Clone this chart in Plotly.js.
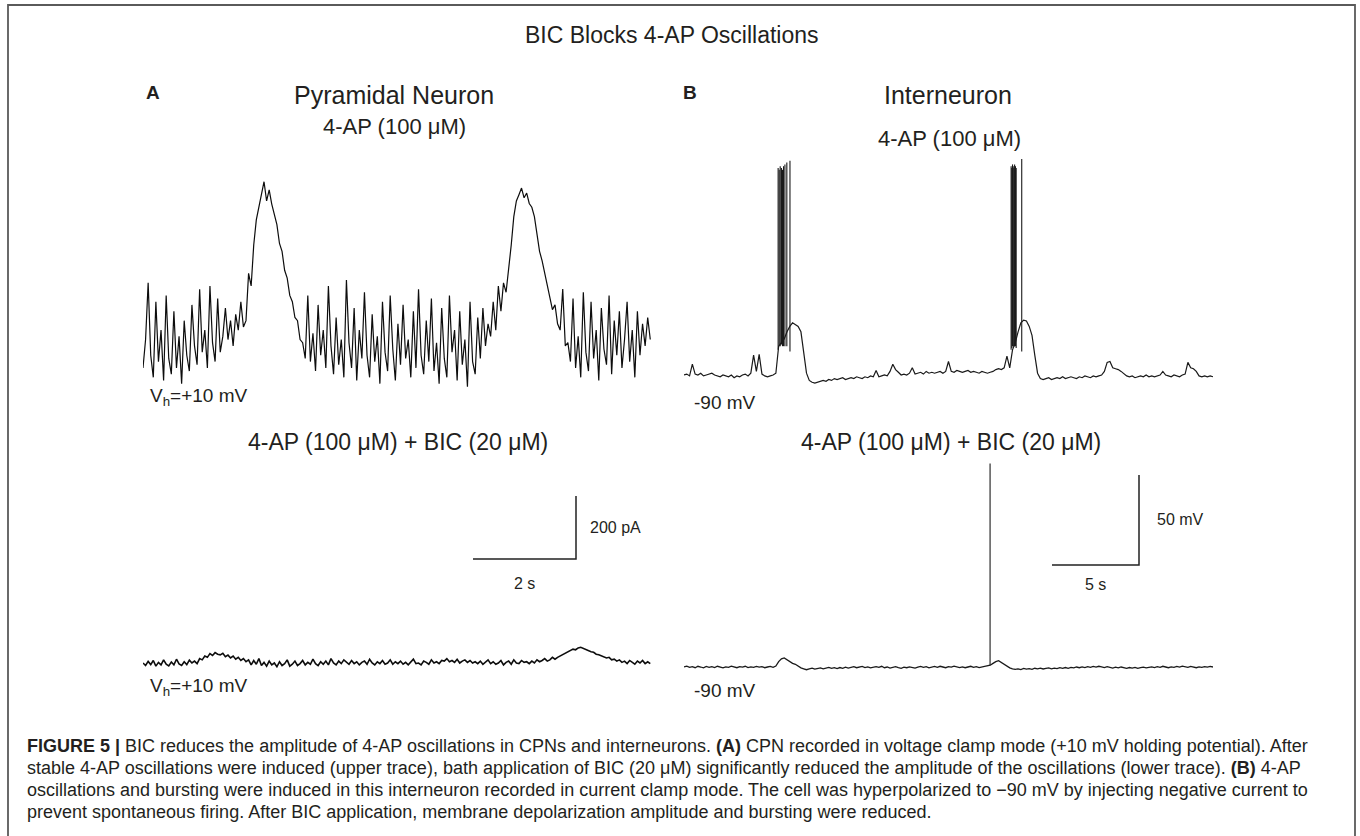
<!DOCTYPE html>
<html>
<head>
<meta charset="utf-8">
<script src="https://cdn.plot.ly/plotly-3.0.1.min.js"></script>
<style>html,body{margin:0;padding:0;background:#fff;}#chart{width:1360px;height:836px;}</style>
</head>
<body>
<div id="chart"></div>
<script>
// ---------------- DATA ----------------
// Panel A (pyramidal neuron, voltage clamp) – current in pA, sampled every 0.05 s
const aDt = 0.05;
const aUpperPA = [
 -60, 30, 210, -20, -90, 150, -40, 60, -100, 170,
 -30, -80, 120, -60, 40, -110, 90, -20, -70, 140,
 10, -50, 190, -10, 60, -60, 200, 20, -40, 160,
 -10, 40, 130, 30, 90, 10, 110, 60, 150, 70,
 90, 240, 200, 330, 410, 450, 490, 531, 470, 505,
 460, 425, 395, 335, 310, 250, 225, 170, 150, 100,
 90, 30, 20, -30, 170, -40, 50, -70, 140, -20,
 60, -60, 200, 10, -80, 100, -50, 30, -90, 219,
 20, -60, 130, -100, 60, -30, 180, -20, -90, 110,
 -40, 40, -110, 150, -10, -70, 170, 0, -100, 80,
 -50, 140, -30, 30, -90, 120, -60, 190, -20, -80,
 90, -40, 160, -70, 20, -110, 130, -30, -90, 170,
 -10, 60, -100, 120, -50, 30, -120, 150, -40, -80,
 100, -30, 130, 10, 80, 40, 150, 60, 200, 120,
 210, 180, 250, 330, 420, 470, 490, 511, 480, 495,
 462, 450, 420, 370, 310, 280, 240, 200, 170, 125,
 140, 80, 60, 190, 10, 20, -40, 160, -60, 40,
 -90, 180, -10, -70, 150, -30, 60, -100, 130, 0,
 -50, 170, -80, 90, -20, 120, -60, 30, 150, -40,
 60, -90, 120, -20, 80, 10, 100, 30
];
const aLowerPA = [
 0, -8, 5, -5, 8, -10, 2, -6, 10, -4,
 -9, 3, -6, 12, -3, -8, 4, -5, 9, 0,
 6, -2, 14, 10, 22, 18, 30, 24, 33, 28,
 26, 31, 20, 25, 16, 22, 12, 18, 8, 14,
 4, 10, -6, 8, -4, 14, -8, 2, -10, 6,
 -6, 0, -12, 4, -8, -2, 10, -10, -4, 6,
 -8, -2, 8, -6, 2, -4, 12, -2, -8, 4,
 -4, 6, -6, 14, 0, -6, 6, -2, 10, 2,
 -4, 8, -2, 4, -6, 2, 6, -4, 12, 0,
 -6, 4, -2, 8, -4, 0, 10, -4, 4, -2,
 6, -4, 2, -6, 4, 12, -2, 0, -6, 6,
 2, -4, 10, 0, 4, -2, 8, 6, 14, 4,
 8, 2, 12, 0, 6, 10, 2, 8, 0, 4,
 -2, 6, -4, 2, 10, -2, 4, -4, 0, 8,
 -6, 2, 6, -4, 10, 0, -2, 8, 2, 4,
 -2, 6, 0, 10, 4, 8, 14, 6, 10, 18,
 12, 18, 22, 28, 32, 36, 38, 44, 42, 48,
 50, 46, 44, 40, 36, 34, 28, 26, 22, 20,
 16, 18, 10, 12, 6, 10, 2, 6, -2, 8,
 2, -4, 6, 0, 8, -2, 4, -2
];

// Panel B (interneuron, current clamp) – membrane potential in mV, sampled every 0.16 s
const bDt = 0.16;
const bUpperMV = [
 -90, -89.5, -90.5, -84, -89.5, -90, -89, -90.5, -90, -89.5,
 -89, -90, -90.5, -91, -90, -90.5, -91, -90, -91.5, -90.5,
 -91, -90, -89.5, -90.5, -89, -79, -88, -78.5, -89.5, -90.5,
 -91, -90.5, -90, -89, -74, -72, -70, -66, -63, -61,
 -62, -63, -66, -78, -89, -93, -94, -94.5, -94, -93.5,
 -93, -93.5, -92.5, -93, -92, -92.5, -92, -91.5, -92.5, -92,
 -91.5, -92, -91, -91.5, -92, -91, -91.5, -90.5, -91, -87.5,
 -91, -90.5, -90, -90.5, -88, -84, -87, -88.5, -90, -89.5,
 -90, -89, -86, -89.5, -89, -88.5, -89.5, -88, -89, -88.5,
 -89, -88.5, -88, -89, -88, -82.5, -88, -88.5, -87.5, -88,
 -88.5, -88, -87.5, -88.5, -88, -88.5, -89, -88, -88.5, -89,
 -88.5, -88, -87, -86.5, -87, -86, -79.5, -86, -76, -72,
 -66, -61, -59.5, -60, -63, -68, -79, -89, -92, -92.5,
 -92, -91.5, -92.5, -92, -91.5, -92, -91, -92, -91.5, -91,
 -91.5, -92, -91, -91.5, -90.5, -91, -91.5, -90.5, -91, -90.5,
 -90, -88, -83, -82.5, -86, -86.5, -87, -88, -89.5, -90.5,
 -91, -90.5, -91.5, -91, -90.5, -91, -90, -91, -90.5, -91,
 -90.5, -90, -88, -90, -90.5, -91, -90, -90.5, -91, -90,
 -89.5, -83, -86, -86.5, -88, -90.5, -91, -90.5, -91, -90.5,
 -91
];
// action potentials during the bursts (time s, peak mV, trough mV)
const bUpperSpikeT    = [5.41, 5.47, 5.53, 5.60, 5.66, 5.72, 5.80, 5.91, 6.09, 18.80, 18.84, 18.88, 18.92, 18.96, 19.00, 19.05, 19.09, 19.41];
const bUpperSpikePeak = [25, 24, 26, 25, 24, 26, 27, 28, 29, 26, 25, 27, 26, 25, 27, 26, 25, 30];
const bUpperSpikeBase = [-76, -74, -74, -73, -74, -74, -74, -74, -77, -76, -75, -74, -74, -74, -74, -74, -75, -77];

const bLowerMV = [
 -90, -89.5, -90.2, -89.8, -90.4, -89.6, -90, -90.5, -89.7, -90.2,
 -89.8, -90.3, -89.6, -90.1, -90.5, -89.9, -90.2, -89.5, -90, -90.4,
 -89.8, -90.1, -89.6, -90.3, -89.9, -90.2, -89.7, -90.1, -89.8, -90.4,
 -90, -89.7, -90.2, -89.5, -87, -85.5, -85, -86, -87, -88,
 -88.5, -89.5, -90.5, -91, -91.5, -91, -90.6, -91.2, -90.8, -90.5,
 -91, -90.6, -90.2, -90.8, -90.4, -90.9, -90.3, -90.7, -90.1, -90.6,
 -90.2, -89.8, -90.4, -90, -89.7, -90.3, -89.9, -90.5, -90.1, -89.8,
 -90.2, -89.6, -90.4, -90, -90.6, -90.2, -89.8, -90.3, -90.7, -90.1,
 -90.4, -89.9, -90.3, -90.6, -90.1, -89.7, -90.2, -89.8, -90.5, -90,
 -89.7, -90.2, -89.6, -90, -90.4, -89.8, -90.1, -89.5, -90, -90.3,
 -89.9, -90.4, -90, -89.6, -90.2, -89.8, -90.3, -90, -89.6, -89.2,
 -89, -88, -87, -86.5, -87.5, -88.5, -89.5, -90.5, -91, -91.3,
 -91, -91.4, -90.8, -91.2, -90.9, -91.3, -90.7, -91, -90.6, -91.1,
 -90.8, -90.5, -91, -90.6, -90.9, -90.4, -90.8, -90.3, -90.7, -90.2,
 -90.5, -90, -90.4, -89.9, -90.3, -89.8, -90.2, -89.7, -90.1, -89.6,
 -89.9, -90.3, -89.8, -90.2, -90.6, -90.1, -90.5, -90, -90.4, -90.7,
 -90.3, -90.6, -90.2, -90.8, -90.4, -90.1, -90.5, -90.2, -89.9, -90.3,
 -89.8, -90.2, -89.6, -90, -90.4, -89.9, -90.2, -89.7, -90.1, -89.5,
 -89.8, -90.2, -89.7, -90, -90.4, -89.9, -90.2, -89.8, -90.1, -89.7,
 -90
];
const bLowerSpikeT = [17.59];
const bLowerSpikePeak = [23];
const bLowerSpikeBase = [-89];

// scale bars (lengths)
const scaleATime = 2, scaleACurrent = 200;
const scaleBTime = 5, scaleBVoltage = 50;

// texts
const figTitle = 'BIC Blocks 4-AP Oscillations';
const panelLetters = ['A', 'B'];
const panelNames = ['Pyramidal Neuron', 'Interneuron'];
const upperCondition = '4-AP (100 μM)';
const lowerCondition = '4-AP (100 μM) + BIC (20 μM)';
const holdingLabels = ['V<sub>h</sub>=+10 mV', '-90 mV'];
const scaleLabelsA = ['2 s', '200 pA'];
const scaleLabelsB = ['5 s', '50 mV'];
const captionLines = [
 '<b>FIGURE 5 |</b> BIC reduces the amplitude of 4-AP oscillations in CPNs and interneurons. <b>(A)</b> CPN recorded in voltage clamp mode (+10 mV holding potential). After',
 'stable 4-AP oscillations were induced (upper trace), bath application of BIC (20 μM) significantly reduced the amplitude of the oscillations (lower trace). <b>(B)</b> 4-AP',
 'oscillations and bursting were induced in this interneuron recorded in current clamp mode. The cell was hyperpolarized to −90 mV by injecting negative current to',
 'prevent spontaneous firing. After BIC application, membrane depolarization amplitude and bursting were reduced.'
];

// ---------------- LAYOUT HELPERS ----------------
const W = 1360, H = 836;
const fx = px => px / W;
const fy = py => 1 - py / H;
const FONT = '"Liberation Sans", Arial, Helvetica, sans-serif';
const INK = '#231f20';

const times = (n, dt) => Array.from({length: n}, (_, i) => i * dt);
function spikeSegments(t, peak, base) {
  const x = [], y = [];
  t.forEach((ti, k) => { x.push(ti, ti, null); y.push(base[k], peak[k], null); });
  return {x, y};
}

// pixel calibration of each axis
const aPxPerS = 51.5, aPxPerPA = 0.315;
const bPxPerS = 17.4, bPxPerMV = 1.8;
const aX0 = 143, aX1 = 653;
const bX0 = 684, bX1 = 1216;

function yAxisFromPx(pTop, pBot, pRef, vRef, pxPerUnit) {
  return {
    domain: [fy(pBot), fy(pTop)],
    range: [vRef - (pBot - pRef) / pxPerUnit, vRef + (pRef - pTop) / pxPerUnit]
  };
}
const hidden = {visible: false, fixedrange: true, showgrid: false, zeroline: false};

const yA1 = yAxisFromPx(165, 400, 349, 0, aPxPerPA);
const yA2 = yAxisFromPx(470, 700, 663, 0, aPxPerPA);
const yB1 = yAxisFromPx(140, 400, 375, -90, bPxPerMV);
const yB2 = yAxisFromPx(440, 700, 667, -90, bPxPerMV);

// scale bar anchors (corner, in axis units)
const sbA = {t: (576 - aX0) / aPxPerS, v: (663 - 559) / aPxPerPA};
const sbB = {t: (1139 - bX0) / bPxPerS, v: -90 + (667 - 565) / bPxPerMV};

const lineStyle = (w, c) => ({color: c || '#111', width: w});
const spU = spikeSegments(bUpperSpikeT, bUpperSpikePeak, bUpperSpikeBase);
const spL = spikeSegments(bLowerSpikeT, bLowerSpikePeak, bLowerSpikeBase);

const traces = [
  {x: times(aUpperPA.length, aDt), y: aUpperPA, xaxis: 'x', yaxis: 'y', mode: 'lines', line: lineStyle(1.2, '#0d0d0d')},
  {x: times(aLowerPA.length, aDt), y: aLowerPA, xaxis: 'x', yaxis: 'y2', mode: 'lines', line: lineStyle(1.6, '#0d0d0d')},
  {x: [sbA.t - scaleATime, sbA.t, sbA.t], y: [sbA.v, sbA.v, sbA.v + scaleACurrent], xaxis: 'x', yaxis: 'y2', mode: 'lines', line: lineStyle(1.5, '#222')},
  {x: times(bUpperMV.length, bDt), y: bUpperMV, xaxis: 'x2', yaxis: 'y3', mode: 'lines', line: lineStyle(1.2, '#1a1a1a')},
  {x: spU.x, y: spU.y, xaxis: 'x2', yaxis: 'y3', mode: 'lines', connectgaps: false, line: lineStyle(1.1, '#1a1a1a')},
  {x: times(bLowerMV.length, bDt), y: bLowerMV, xaxis: 'x2', yaxis: 'y4', mode: 'lines', line: lineStyle(1.3, '#1a1a1a')},
  {x: spL.x, y: spL.y, xaxis: 'x2', yaxis: 'y4', mode: 'lines', connectgaps: false, line: lineStyle(1.1, '#1a1a1a')},
  {x: [sbB.t - scaleBTime, sbB.t, sbB.t], y: [sbB.v, sbB.v, sbB.v + scaleBVoltage], xaxis: 'x2', yaxis: 'y4', mode: 'lines', line: lineStyle(1.5, '#222')}
].map(t => Object.assign({hoverinfo: 'skip', showlegend: false, type: 'scatter'}, t));

function ann(text, px, py, size, xanchor, extra) {
  return Object.assign({text, x: fx(px), y: fy(py), xref: 'paper', yref: 'paper', showarrow: false,
    xanchor: xanchor || 'center', yanchor: 'middle', align: 'left',
    font: {family: FONT, size, color: INK}}, extra || {});
}

const annotations = [
  ann(figTitle, 672, 35, 23),
  ann('<b>' + panelLetters[0] + '</b>', 144, 92, 19, 'left'),
  ann('<b>' + panelLetters[1] + '</b>', 681, 92, 19, 'left'),
  ann(panelNames[0], 394, 95, 25),
  ann(panelNames[1], 948, 95, 25),
  ann(upperCondition, 394, 127, 22),
  ann(upperCondition, 949, 138, 22),
  ann(lowerCondition, 398, 442, 23),
  ann(lowerCondition, 951, 442, 23),
  ann(holdingLabels[0], 148, 397, 19, 'left'),
  ann(holdingLabels[0], 148, 687, 19, 'left'),
  ann(holdingLabels[1], 692, 402, 19, 'left'),
  ann(holdingLabels[1], 692, 690, 19, 'left'),
  ann(scaleLabelsA[0], 524, 583, 16),
  ann(scaleLabelsA[1], 588, 527, 16, 'left'),
  ann(scaleLabelsB[0], 1095, 584, 16),
  ann(scaleLabelsB[1], 1155, 519, 16, 'left')
];
const capY = [746, 768, 790, 812];
captionLines.forEach((t, k) => annotations.push(ann(t, 25, capY[k], 18, 'left')));

const layout = {
  width: W, height: H,
  margin: {l: 0, r: 0, t: 0, b: 0},
  paper_bgcolor: '#ffffff', plot_bgcolor: 'rgba(0,0,0,0)',
  showlegend: false,
  font: {family: FONT, color: INK},
  xaxis: Object.assign({}, hidden, {domain: [fx(aX0), fx(aX1)], range: [0, (aX1 - aX0) / aPxPerS], anchor: 'y'}),
  yaxis: Object.assign({}, hidden, yA1, {anchor: 'x'}),
  yaxis2: Object.assign({}, hidden, yA2, {anchor: 'x'}),
  xaxis2: Object.assign({}, hidden, {domain: [fx(bX0), fx(bX1)], range: [0, (bX1 - bX0) / bPxPerS], anchor: 'y3'}),
  yaxis3: Object.assign({}, hidden, yB1, {anchor: 'x2'}),
  yaxis4: Object.assign({}, hidden, yB2, {anchor: 'x2'}),
  annotations,
  shapes: [{type: 'rect', xref: 'paper', yref: 'paper', x0: fx(8), x1: fx(1355), y0: fy(850), y1: fy(5),
            line: {color: '#5a5a5a', width: 1.8}, fillcolor: 'rgba(0,0,0,0)', layer: 'below'}]
};

Plotly.newPlot('chart', traces, layout, {staticPlot: true, displayModeBar: false});
</script>
</body>
</html>
